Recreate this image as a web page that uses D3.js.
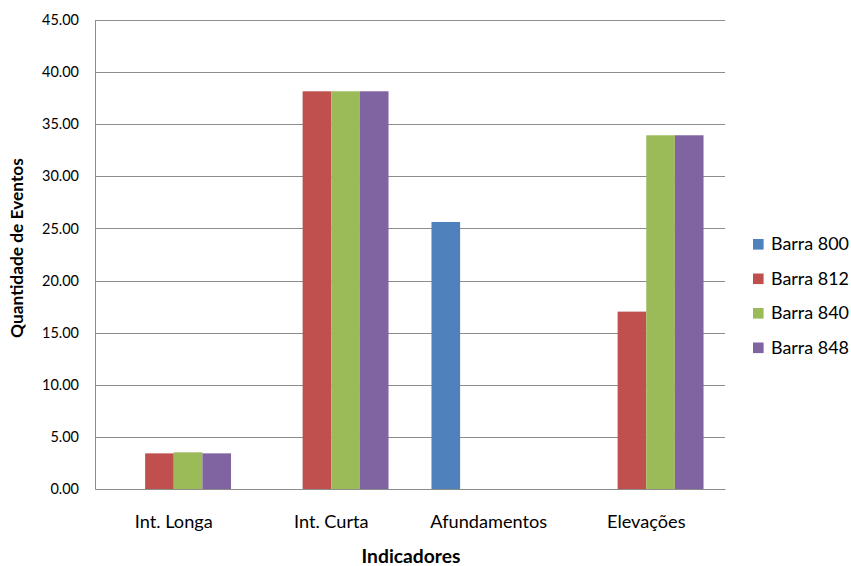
<!DOCTYPE html>
<html><head><meta charset="utf-8">
<script src="https://cdn.jsdelivr.net/npm/d3@7"></script>
<style>body{margin:0;background:#fff;} text{font-family:Lato,"Open Sans",sans-serif;fill:#000;}</style>
</head><body><svg id="c" width="851" height="566"></svg>
<script>
const categories = ["Int. Longa","Int. Curta","Afundamentos","Elevações"];
const seriesNames = ["Barra 800","Barra 812","Barra 840","Barra 848"];
const barra800 = [0, 0, 25.62, 0];
const barra812 = [3.42, 38.16, 0, 17.02];
const barra840 = [3.52, 38.16, 0, 33.94];
const barra848 = [3.42, 38.16, 0, 33.94];
const yTicks = [0,5,10,15,20,25,30,35,40,45];
const colors = ["#4f81bd","#c0504d","#9bbb59","#8064a2"];
const seriesValues = [barra800, barra812, barra840, barra848];

const svg = d3.select("#c");
const m = {l:95, r:725, t:20, b:489};
const x = d3.scaleBand().domain(categories).range([m.l, m.r]).paddingInner(0).paddingOuter(0);
const bw = x.bandwidth()/5.5;
const xs = d3.scaleBand().domain(seriesNames).range([0.75*bw, 4.75*bw]).padding(0);
const y = d3.scaleLinear().domain([0,45]).range([m.b, m.t]);

// font fitting: size so that reference text has target width
function fitSize(str, target, weight) {
  const t = svg.append("text").attr("font-size","20px").attr("font-weight",weight||"normal").text(str);
  const w = t.node().getComputedTextLength();
  t.remove();
  return 20*target/w;
}
const catSize = fitSize("Afundamentos", 117);
const tickSize = fitSize("20.00", 37);
const xTitleSize = fitSize("Indicadores", 99, "bold");
const yTitleSize = fitSize("Quantidade de Eventos", 180, "bold");
const legSize = fitSize("Barra 800", 78);

// gridlines
svg.append("g").selectAll("line").data(yTicks.filter(d=>d>0)).join("line")
  .attr("x1", m.l).attr("x2", m.r).attr("y1", d=>Math.round(y(d))+0.5).attr("y2", d=>Math.round(y(d))+0.5)
  .attr("stroke", "#8c8c8c").attr("stroke-width", 1);

// bars
seriesNames.forEach((s,i)=>{
  svg.append("g").selectAll("rect").data(categories.map((c,j)=>({c, v: seriesValues[i][j]})).filter(d=>d.v>0))
    .join("rect")
    .attr("x", d=>x(d.c)+xs(s)).attr("width", xs.bandwidth())
    .attr("y", d=>y(d.v)).attr("height", d=>y(0)-y(d.v))
    .attr("fill", colors[i]);
});

// axes
const yAxis = d3.axisLeft(y).tickValues(yTicks).tickFormat(d3.format(".2f")).tickSize(0).tickPadding(16);
const gy = svg.append("g").attr("transform",`translate(${m.l},0)`).call(yAxis);
gy.select(".domain").attr("stroke","#8c8c8c");
gy.selectAll("text").attr("font-size",tickSize+"px").attr("fill","#000").attr("font-family","Lato,'Open Sans',sans-serif");

const xAxis = d3.axisBottom(x).tickSize(0).tickPadding(0);
const gx = svg.append("g").attr("transform",`translate(0,${m.b})`).call(xAxis);
gx.select(".domain").attr("stroke","#8c8c8c");
gx.selectAll("text").attr("font-size",catSize+"px").attr("fill","#000").attr("font-family","Lato,'Open Sans',sans-serif")
  .attr("dy",null).attr("y", 528-m.b);

// titles
svg.append("text").attr("x", 411).attr("y", 563).attr("text-anchor","middle")
  .attr("font-size",xTitleSize+"px").attr("font-weight","bold").text("Indicadores");
svg.append("text").attr("transform","translate(23,248) rotate(-90)").attr("text-anchor","middle")
  .attr("font-size",yTitleSize+"px").attr("font-weight","bold").text("Quantidade de Eventos");

// legend
const lg = svg.append("g");
seriesNames.forEach((s,i)=>{
  const cy = 244.3 + i*34.5;
  lg.append("rect").attr("x",753).attr("y",cy-5.3).attr("width",10.6).attr("height",10.6).attr("fill",colors[i]);
  lg.append("text").attr("x",771).attr("y",cy+6).attr("font-size",legSize+"px").text(s);
});
</script></body></html>
